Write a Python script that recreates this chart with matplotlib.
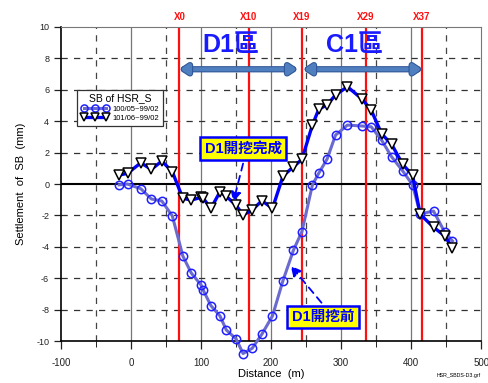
import matplotlib
matplotlib.use("Agg")
import matplotlib.pyplot as plt
import matplotlib.patheffects as pe
import numpy as np

plt.rcParams['font.family'] = ['Liberation Sans', 'Noto Sans CJK TC', 'DejaVu Sans']
plt.rcParams['axes.unicode_minus'] = False

# Distance (m)
dist = [-17, -5, 14, 29, 44, 59, 74, 86, 100, 103, 114, 127, 136, 150, 160, 173, 187, 202,
        217, 232, 244, 259, 268, 280, 292, 309, 330, 343, 358, 372, 388, 402, 413, 432, 448, 459]
# 100/05-99/02
sb_1005 = [-0.05, 0.0, -0.3, -0.95, -1.08, -2.03, -4.58, -5.66, -6.42, -6.74, -7.73, -8.39,
           -9.28, -9.85, -10.78, -10.45, -9.54, -8.39, -6.14, -4.2, -3.03, -0.06, 0.68, 1.59,
           3.11, 3.75, 3.69, 3.64, 2.78, 1.74, 0.83, -0.05, -1.9, -1.72, -3.07, -3.62]
# 101/06-99/02
sb_1016 = [0.57, 0.68, 1.35, 0.93, 1.46, 0.78, -0.91, -1.02, -0.85, -0.9, -1.55, -0.5,
           -0.78, -1.35, -1.97, -1.65, -1.06, -1.55, 0.51, 1.1, 1.57, 3.75, 4.75, 5.04,
           5.66, 6.19, 5.4, 4.7, 3.18, 2.54, 1.25, 0.55, -1.93, -2.75, -3.3, -4.05]

sections = ['X0', 'X10', 'X19', 'X29', 'X37']
section_x = [69, 168, 244, 335, 415]

fig = plt.figure(figsize=(4.88, 3.83), dpi=100)
ax = fig.add_axes([0.125, 0.109, 0.861, 0.821])

# Gitter
for gx in range(-50, 500, 100):
    ax.axvline(gx, color='#444444', lw=0.9, ls=(0, (5, 5)), zorder=1)
for gx in range(0, 500, 100):
    ax.axvline(gx, color='#777777', lw=0.9, zorder=1)
for gy in [-8, -6, -4, -2, 2, 4, 6, 8]:
    ax.axhline(gy, color='#333333', lw=0.9, ls=(0, (5, 5)), zorder=1)
ax.axhline(0, color='black', lw=1.5, zorder=1)

# Querschnitte
for name, sx in zip(sections, section_x):
    ax.axvline(sx, color='#ff1010', lw=1.6, zorder=2)
    ax.text(sx, 10.3, name, color='#ff1010', fontsize=7, fontweight='bold',
            ha='center', va='bottom')

ax.plot(dist, sb_1005, color='#6b6bcf', lw=2.2, marker='o', ms=6,
        mfc='none', mec='#1f1fff', mew=1.1, label='100/05~99/02', zorder=4,
        clip_on=False)
ax.plot(dist, sb_1016, color='#0000ff', lw=2.4, marker='v', ms=7,
        mfc='white', mec='black', mew=1.1, label='101/06~99/02', zorder=5,
        clip_on=False)

# Bereiche
stroke = [pe.withStroke(linewidth=4.5, foreground='#2f5597')]
ax.annotate('', xy=(70, 7.3), xytext=(237, 7.3),
            arrowprops=dict(arrowstyle='<|-|>,head_length=0.45,head_width=0.3',
                            color='#4f7fbf', lw=3, shrinkA=0, shrinkB=0,
                            path_effects=stroke), zorder=6)
ax.annotate('', xy=(247, 7.3), xytext=(415, 7.3),
            arrowprops=dict(arrowstyle='<|-|>,head_length=0.45,head_width=0.3',
                            color='#4f7fbf', lw=3, shrinkA=0, shrinkB=0,
                            path_effects=stroke), zorder=6)
ax.text(143, 8.85, 'D1區', color='#1a1aff', fontsize=18, fontweight='bold',
        ha='center', va='center', zorder=6)
ax.text(319, 8.85, 'C1區', color='#1a1aff', fontsize=18, fontweight='bold',
        ha='center', va='center', zorder=6)

# Hinweise
box = dict(boxstyle='square,pad=0.3', fc='#ffff00', ec='#0000ff', lw=1.8)
ax.text(160, 2.26, 'D1開挖完成', color='#0000ff', fontsize=10.5, fontweight='bold',
        ha='center', va='center', bbox=box, zorder=7)
ax.annotate('', xy=(146, -1.15), xytext=(160, 1.3),
            arrowprops=dict(arrowstyle='-|>,head_length=0.6,head_width=0.3',
                            color='#0000ff', lw=1.3, ls=(0, (4, 3)),
                            shrinkA=0, shrinkB=0), zorder=7)
ax.text(274, -8.45, 'D1開挖前', color='#0000ff', fontsize=10.5, fontweight='bold',
        ha='center', va='center', bbox=box, zorder=7)
ax.annotate('', xy=(228, -5.2), xytext=(272, -7.55),
            arrowprops=dict(arrowstyle='-|>,head_length=0.6,head_width=0.3',
                            color='#0000ff', lw=1.3, ls=(0, (4, 3)),
                            shrinkA=0, shrinkB=0), zorder=7)

ax.set_xlim(-100, 500)
ax.set_ylim(-10, 10)
ax.set_xticks(range(-100, 501, 100))
ax.set_xticks(range(-50, 500, 100), minor=True)
ax.set_yticks(range(-10, 11, 2))
ax.tick_params(axis='both', direction='out', labelsize=7, colors='#222222', width=0.9)
ax.tick_params(axis='x', which='major', length=6, pad=6)
ax.tick_params(axis='x', which='minor', length=4)
ax.tick_params(axis='y', length=5, labelsize=6.5)
for side in ['top', 'right']:
    ax.spines[side].set_color('#777777')
ax.spines['left'].set_linewidth(1.2)
ax.spines['bottom'].set_linewidth(1.2)

ax.set_xlabel('Distance  (m)', fontsize=8, labelpad=1)
ax.set_ylabel('Settlement  of  SB  (mm)', fontsize=8, labelpad=7)

leg = ax.legend(title='SB of HSR_S', loc='upper left', bbox_to_anchor=(0.03, 0.812),
                fontsize=5.5, title_fontsize=7.5, frameon=True, fancybox=False,
                edgecolor='#333333', framealpha=1, handlelength=3.6, numpoints=3,
                borderpad=0.5, labelspacing=0.25, handletextpad=0.5, markerscale=0.85)
leg.get_frame().set_linewidth(0.9)
leg.set_zorder(8)

fig.text(0.985, 0.013, 'HSR_SBDS-D3.grf', fontsize=3.8, ha='right', va='bottom')

fig.savefig('out.png', dpi=100)
